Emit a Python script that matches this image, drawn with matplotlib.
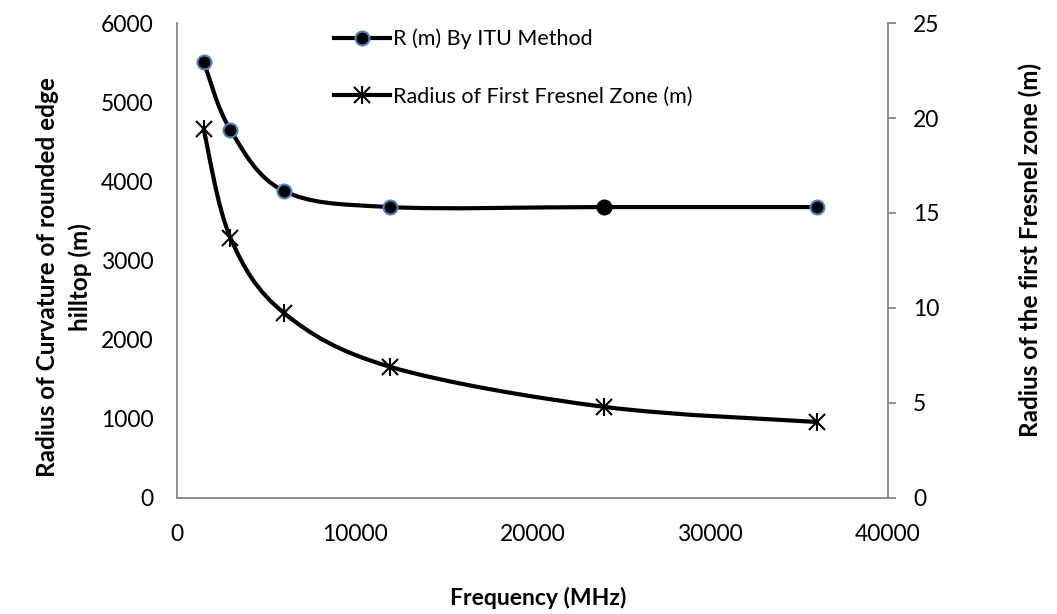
import numpy as np
import matplotlib.pyplot as plt
from matplotlib.path import Path
from matplotlib.patches import PathPatch
from matplotlib.lines import Line2D

plt.rcParams['font.family'] = ['Lato', 'DejaVu Sans']

# data
freq = [1500, 3000, 6000, 12000, 24000, 36000]          # MHz
r_itu = [5510, 4650, 3880, 3675, 3675, 3675]            # m, left axis
fresnel = [19.4, 13.7, 9.75, 6.9, 4.8, 4.0]             # m, right axis

axis_grey = '#868686'
blue_edge = '#4F81BD'


# smooth curve through the points (catmull-rom -> cubic bezier), like excel's smoothed line
def smooth_path(x, y):
    x = np.asarray(x, float)
    y = np.asarray(y, float)
    pts = np.column_stack([x, y])
    verts = [pts[0]]
    codes = [Path.MOVETO]
    n = len(pts)
    for i in range(n - 1):
        p0 = pts[max(i - 1, 0)]
        p1 = pts[i]
        p2 = pts[i + 1]
        p3 = pts[min(i + 2, n - 1)]
        c1 = p1 + (p2 - p0) / 6.0
        c2 = p2 - (p3 - p1) / 6.0
        verts += [c1, c2, p2]
        codes += [Path.CURVE4] * 3
    return Path(verts, codes)


fig = plt.figure(figsize=(10.57, 6.14), dpi=100)
ax = fig.add_axes([0.1675, 0.189, 0.6725, 0.7735])
ax2 = ax.twinx()

# R by ITU (left axis)
ax.add_patch(PathPatch(smooth_path(freq, r_itu), fill=False, lw=3, color='black',
                       capstyle='round', joinstyle='round', zorder=3))
edges = [blue_edge] * len(freq)
edges[4] = 'black'
for xx, yy, ec in zip(freq, r_itu, edges):
    ax.plot(xx, yy, 'o', ms=10, mfc='black', mec=ec, mew=1.5, zorder=4)

# first fresnel zone radius (right axis)
ax2.add_patch(PathPatch(smooth_path(freq, fresnel), fill=False, lw=3, color='black',
                        capstyle='round', joinstyle='round', zorder=3))
ax2.plot(freq, fresnel, 'x', ms=11, mew=1.5, color='black', zorder=4)
ax2.plot(freq, fresnel, '|', ms=13, mew=1.5, color='black', zorder=4)

ax.set_xlim(0, 40000)
ax.set_ylim(0, 6000)
ax2.set_ylim(0, 25)
ax.set_xticks([0, 10000, 20000, 30000, 40000])
ax.set_yticks(range(0, 6001, 1000))
ax2.set_yticks(range(0, 26, 5))

for a in (ax, ax2):
    a.spines['top'].set_visible(False)
    for s in a.spines.values():
        s.set_color(axis_grey)
        s.set_linewidth(1.3)
ax.spines['right'].set_visible(False)
ax2.spines['left'].set_visible(False)
ax2.spines['bottom'].set_visible(False)

ax.tick_params(axis='y', length=0, labelsize=16.5, pad=17)
ax.tick_params(axis='x', length=0, labelsize=16.5, pad=19)
ax2.tick_params(axis='y', length=6, color=axis_grey, width=1.3, labelsize=16.5, pad=12)

# axis titles placed like the excel original
fig.text(538 / 1057, 0.026, 'Frequency (MHz)', fontsize=16.5, fontweight='bold',
         ha='center', va='center')
fig.text(64 / 1057, 0.549, 'Radius of Curvature of rounded edge\nhilltop (m)', fontsize=17.5,
         fontweight='bold', rotation=90, ha='center', va='center', linespacing=1.45)
fig.text(1030 / 1057, 0.593, 'Radius of the first Fresnel zone (m)', fontsize=17.5,
         fontweight='bold', rotation=90, ha='center', va='center')

h1 = Line2D([], [], color='black', lw=3, marker='o', ms=10, mfc='black', mec=blue_edge, mew=1.5)
h2a = Line2D([], [], color='black', lw=3, marker='x', ms=11, mew=1.5)
h2b = Line2D([], [], color='black', lw=0, marker='|', ms=13, mew=1.5)
ax.legend([h1, (h2a, h2b)], ['R (m) By ITU Method', 'Radius of First Fresnel Zone (m)'],
          loc='upper left', bbox_to_anchor=(0.193, 1.029), frameon=False, fontsize=15.5,
          labelspacing=1.75, handlelength=2.6, handletextpad=0.15)

fig.savefig('out.png', dpi=100)
